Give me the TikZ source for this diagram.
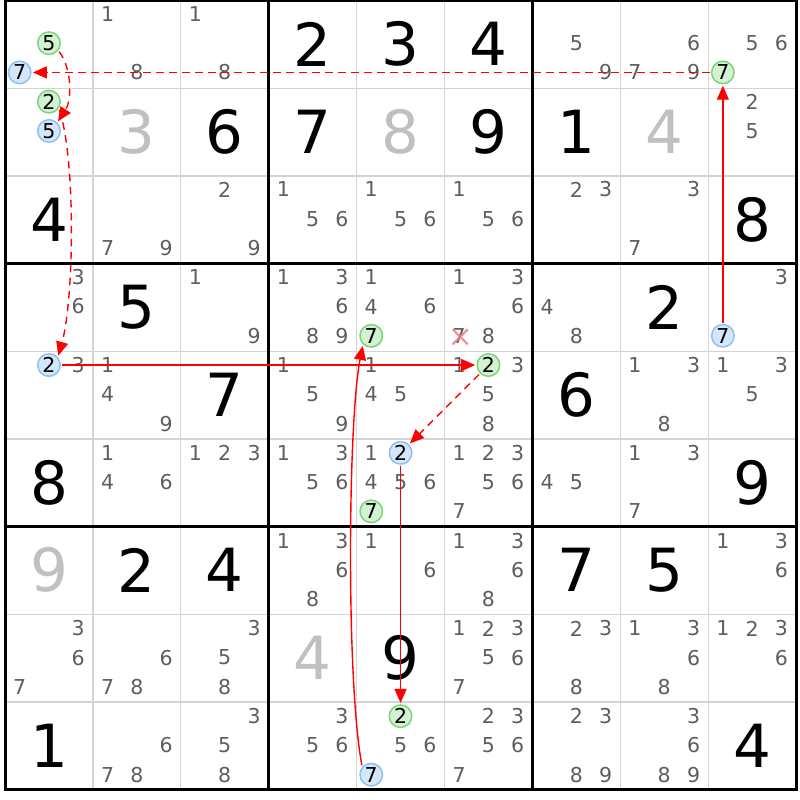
\documentclass[tikz,border=0pt]{standalone}
\usepackage{fontspec}
\setmainfont{DejaVu Sans}
\usetikzlibrary{arrows.meta,shapes.misc}
\definecolor{candgrey}{HTML}{5E5E5E}
\definecolor{solvedgrey}{HTML}{C0C0C0}
\definecolor{gridgrey}{HTML}{D4D4D4}
\definecolor{greenfill}{HTML}{D2F2D2}
\definecolor{greenline}{HTML}{7DD47D}
\definecolor{bluefill}{HTML}{D4E6FA}
\definecolor{blueline}{HTML}{8EC0F2}
\definecolor{linkred}{HTML}{FF0000}
\definecolor{xred}{HTML}{F07E7E}
\newcommand\putcands[3]{%
  \foreach \d in {#3} {%
    \pgfmathtruncatemacro\sc{mod(\d-1,3)}%
    \pgfmathtruncatemacro\sr{(\d-1)/3}%
    \node[cand] (k#1#2\d) at ({5+87.9*#2+29.3*(\sc+0.5)},{-0.7+87.78*#1+29.26*(\sr+0.5)}) {\d};
  }}
\newcommand\hlcand[5]{%
  \pgfmathtruncatemacro\sc{mod(#5-1,3)}%
  \pgfmathtruncatemacro\sr{(#5-1)/3}%
  \node[#1] (#2) at ({5+87.9*#4+29.3*(\sc+0.5)},{-0.7+87.78*#3+29.26*(\sr+0.5)}) {#5};}
\newcommand\bigd[4]{\node[bigdigit,#1] (d#2#3) at ({5+87.9*(#3+0.5)},{0.2+87.7*(#2+0.5)}) {#4};}
\begin{document}
\begin{tikzpicture}[x=1pt,y=-1pt,
  cand/.style={text=candgrey,font=\fontsize{20.5}{21}\selectfont,inner sep=0pt},
  bigdigit/.style={font=\fontsize{59.5}{60}\selectfont,inner sep=0pt},
  given/.style={text=black},
  solved/.style={text=solvedgrey},
  hlbase/.style={circle,line width=1.5pt,minimum size=22.5pt,inner sep=0pt,outer sep=2pt,
    font=\fontsize{20.5}{21}\selectfont,text=black},
  gnode/.style={hlbase,draw=greenline,fill=greenfill},
  bnode/.style={hlbase,draw=blueline,fill=bluefill},
  thingrid/.style={draw=gridgrey,line width=1.3pt},
  thickgrid/.style={draw=black,line width=3pt},
  linkstrong/.style={draw=linkred,line width=1.4pt,-{Triangle[length=14pt,width=12pt]}},
  linkweak/.style={linkstrong,dash pattern=on 7.5pt off 5.5pt},
  elim/.style={cross out,draw=xred,line width=2.2pt,minimum size=13pt,inner sep=0pt,opacity=0.85}]
\useasboundingbox (0,0) rectangle (800,800);
\fill[white] (0,0) rectangle (800,800);
% grid
\foreach \i in {1,2,4,5,7,8} {
  \draw[thingrid] ({5+87.9*\i},0.5) -- ({5+87.9*\i},789.8);
  \draw[thingrid] (5,{0.5+87.7*\i}) -- (796.1,{0.5+87.7*\i});
}
\foreach \i in {0,3,6,9} {
  \draw[thickgrid] ({5+87.9*\i},0.5) -- ({5+87.9*\i},789.8);
  \draw[thickgrid] (3.5,{0.5+87.7*\i}) -- (797.6,{0.5+87.7*\i});
}
% given digits
\bigd{given}{0}{3}{2} \bigd{given}{0}{4}{3} \bigd{given}{0}{5}{4}
\bigd{given}{1}{2}{6} \bigd{given}{1}{3}{7} \bigd{given}{1}{5}{9} \bigd{given}{1}{6}{1}
\bigd{given}{2}{0}{4} \bigd{given}{2}{8}{8}
\bigd{given}{3}{1}{5} \bigd{given}{3}{7}{2}
\bigd{given}{4}{2}{7} \bigd{given}{4}{6}{6}
\bigd{given}{5}{0}{8} \bigd{given}{5}{8}{9}
\bigd{given}{6}{1}{2} \bigd{given}{6}{2}{4} \bigd{given}{6}{6}{7} \bigd{given}{6}{7}{5}
\bigd{given}{7}{4}{9}
\bigd{given}{8}{0}{1} \bigd{given}{8}{8}{4}
% solved digits
\bigd{solved}{1}{1}{3} \bigd{solved}{1}{4}{8} \bigd{solved}{1}{7}{4}
\bigd{solved}{6}{0}{9} \bigd{solved}{7}{3}{4}
% candidates
\putcands{0}{1}{1,8} \putcands{0}{2}{1,8} \putcands{0}{6}{5,9} \putcands{0}{7}{6,7,9} \putcands{0}{8}{5,6}
\putcands{1}{8}{2,5}
\putcands{2}{1}{7,9} \putcands{2}{2}{2,9} \putcands{2}{3}{1,5,6} \putcands{2}{4}{1,5,6}
\putcands{2}{5}{1,5,6} \putcands{2}{6}{2,3} \putcands{2}{7}{3,7}
\putcands{3}{0}{3,6} \putcands{3}{2}{1,9} \putcands{3}{3}{1,3,6,8,9} \putcands{3}{4}{1,4,6}
\putcands{3}{5}{1,3,6,7,8} \putcands{3}{6}{4,8} \putcands{3}{8}{3}
\putcands{4}{0}{3} \putcands{4}{1}{1,4,9} \putcands{4}{3}{1,5,9} \putcands{4}{4}{1,4,5}
\putcands{4}{5}{1,3,5,8} \putcands{4}{7}{1,3,8} \putcands{4}{8}{1,3,5}
\putcands{5}{1}{1,4,6} \putcands{5}{2}{1,2,3} \putcands{5}{3}{1,3,5,6} \putcands{5}{4}{1,4,5,6}
\putcands{5}{5}{1,2,3,5,6,7} \putcands{5}{6}{4,5} \putcands{5}{7}{1,3,7}
\putcands{6}{3}{1,3,6,8} \putcands{6}{4}{1,6} \putcands{6}{5}{1,3,6,8} \putcands{6}{8}{1,3,6}
\putcands{7}{0}{3,6,7} \putcands{7}{1}{6,7,8} \putcands{7}{2}{3,5,8} \putcands{7}{5}{1,2,3,5,6,7}
\putcands{7}{6}{2,3,8} \putcands{7}{7}{1,3,6,8} \putcands{7}{8}{1,2,3,6}
\putcands{8}{1}{6,7,8} \putcands{8}{2}{3,5,8} \putcands{8}{3}{3,5,6} \putcands{8}{4}{5,6}
\putcands{8}{5}{2,3,5,6,7} \putcands{8}{6}{2,3,8,9} \putcands{8}{7}{3,6,8,9}
% eliminated candidate
\node[elim] (x357) at ([shift={(1,1)}]k357.center) {};
% highlighted candidates
\hlcand{gnode}{g5r0c0}{0}{0}{5}
\hlcand{bnode}{b7r0c0}{0}{0}{7}
\hlcand{gnode}{g2r1c0}{1}{0}{2}
\hlcand{bnode}{b5r1c0}{1}{0}{5}
\hlcand{gnode}{g7r0c8}{0}{8}{7}
\hlcand{bnode}{b7r3c8}{3}{8}{7}
\hlcand{bnode}{b2r4c0}{4}{0}{2}
\hlcand{gnode}{g2r4c5}{4}{5}{2}
\hlcand{bnode}{b2r5c4}{5}{4}{2}
\hlcand{gnode}{g7r5c4}{5}{4}{7}
\hlcand{gnode}{g7r3c4}{3}{4}{7}
\hlcand{gnode}{g2r8c4}{8}{4}{2}
\hlcand{bnode}{b7r8c4}{8}{4}{7}
% chain links
\draw[linkstrong] (b7r3c8) -- (g7r0c8);
\draw[linkweak] (g7r0c8) -- (b7r0c0);
\draw[linkweak] (g5r0c0.-40) .. controls (72,68) and (72,100) .. (b5r1c0.47);
\draw[linkweak] (g2r1c0.-38) .. controls (76,160) and (74,300) .. (b2r4c0.45);
\draw[linkstrong] (b2r4c0) -- (g2r4c5);
\draw[linkweak] (g2r4c5) -- (b2r5c4);
\draw[linkstrong] (b2r5c4) -- (g2r8c4);
\draw[linkstrong] (b7r8c4.135) .. controls (346,680) and (348,420) .. (g7r3c4.-130);
\end{tikzpicture}
\end{document}
